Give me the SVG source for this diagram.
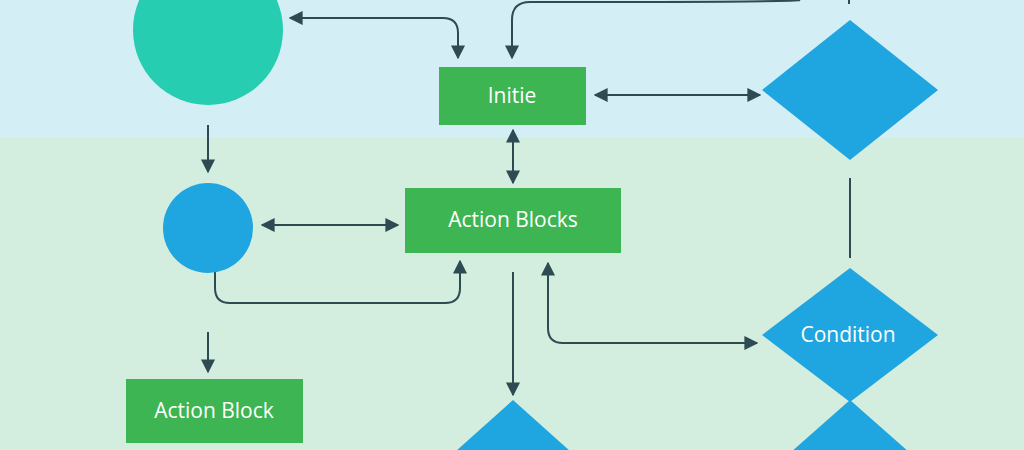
<svg xmlns="http://www.w3.org/2000/svg" width="1024" height="450" viewBox="0 0 1024 450">
<defs>
<marker id="ah" viewBox="0 0 10 10" refX="9" refY="5" markerWidth="7" markerHeight="7" orient="auto-start-reverse"><path d="M0,0 L10,5 L0,10 z" fill="#2e4a52"/></marker>
<style>
.c{fill:none;stroke:#2e4a52;stroke-width:2}
.r{fill:#3db552}
.d{fill:#1fa6e0}
.t{font-family:"Open Sans","Liberation Sans",sans-serif;font-size:21px;fill:#fff;text-anchor:middle}
</style>
</defs>
<rect width="1024" height="137" fill="#d3eef4"/>
<rect y="137" width="1024" height="313" fill="#d3eedf"/>
<g id="connectors">
<path class="c" d="M290,18 H443 Q458,18 458,33 V58" marker-start="url(#ah)" marker-end="url(#ah)"/>
<path class="c" d="M800,0 Q795,2 530,2 Q512,2 512,20 V58" marker-end="url(#ah)"/>
<path class="c" d="M595,95 H760" marker-start="url(#ah)" marker-end="url(#ah)"/>
<path class="c" d="M513,130 V183" marker-start="url(#ah)" marker-end="url(#ah)"/>
<path class="c" d="M208,125 V172" marker-end="url(#ah)"/>
<path class="c" d="M262,225 H398" marker-start="url(#ah)" marker-end="url(#ah)"/>
<path class="c" d="M215,272 V288 Q215,303 230,303 H445 Q460,303 460,288 V261" marker-end="url(#ah)"/>
<path class="c" d="M757,343 H563 Q548,343 548,328 V263" marker-start="url(#ah)" marker-end="url(#ah)"/>
<path class="c" d="M513,272 V395" marker-end="url(#ah)"/>
<path class="c" d="M208,332 V372" marker-end="url(#ah)"/>
<path class="c" d="M850,178 V258"/>
<path class="c" d="M849,0 V4"/>
</g>
<g id="circle-top"><circle cx="208" cy="30" r="75" fill="#27cdb0"/></g>
<g id="initie"><rect class="r" x="439" y="67" width="147" height="58"/><text class="t" x="512" y="103">Initie</text></g>
<g id="diamond-top"><polygon class="d" points="850,20 938,90 850,160 762,90"/></g>
<g id="circle-mid"><circle cx="208" cy="228" r="45" fill="#1fa6e0"/></g>
<g id="action-blocks"><rect class="r" x="405" y="188" width="216" height="65"/><text class="t" x="513" y="227">Action Blocks</text></g>
<g id="condition"><polygon class="d" points="850,268 938,335 850,402 762,335"/><text class="t" x="848" y="342">Condition</text></g>
<g id="action-block"><rect class="r" x="126" y="379" width="177" height="64"/><text class="t" x="214" y="418">Action Block</text></g>
<g id="diamond-bottom"><polygon class="d" points="513,400 580,460 513,520 446,460"/></g>
<g id="diamond-bottom-right"><polygon class="d" points="850,400 918,460 850,520 782,460"/></g>
</svg>
